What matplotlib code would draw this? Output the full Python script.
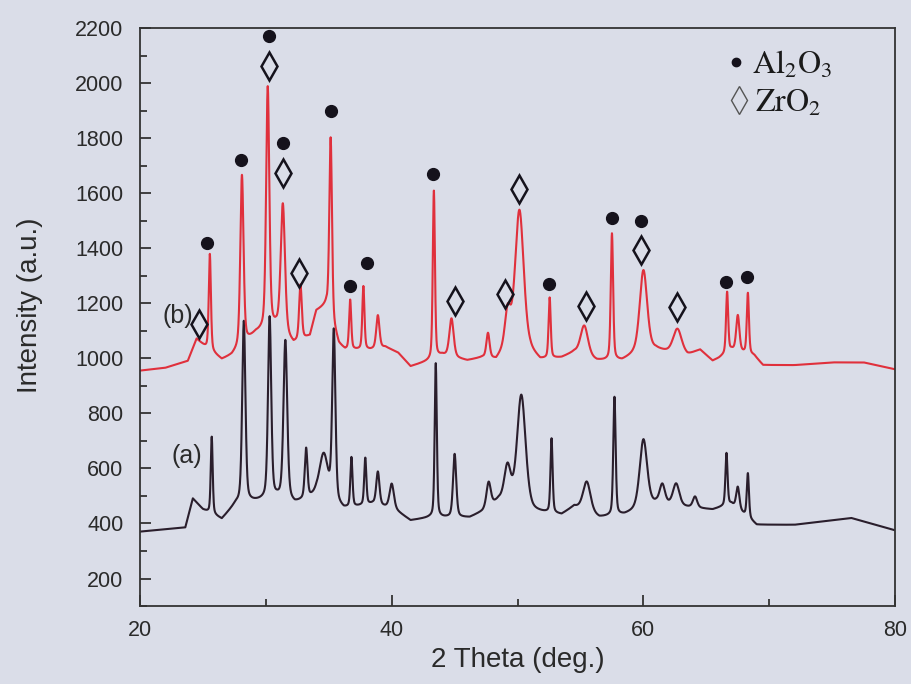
import numpy as np
import matplotlib
matplotlib.use("Agg")
import matplotlib.pyplot as plt

# ---------------- data ----------------
# sample (b) (red): background knots and diffraction peaks
b_base_x = [20, 22, 23.8, 24.5, 25.2, 26.5, 27.3, 29.2, 30.8, 32.2, 33.5, 34.0, 34.8, 35.8, 36.3,
            38.3, 39.5, 40.5, 41.5, 43.0, 44.0, 46.0, 47.2, 48.3, 49.4, 51.0, 51.8, 53.5, 54.5,
            56.3, 58.3, 59.2, 61.0, 62.0, 63.5, 64.5, 65.5, 66.0, 67.0, 68.8, 69.5, 72, 75, 77.5, 80]
b_base_y = [955, 965, 990, 1070, 1040, 995, 1010, 1090, 1110, 1050, 1080, 1170, 1190, 1050, 1030,
            1030, 1040, 1020, 970, 990, 1010, 990, 1000, 990, 1050, 1020, 990, 1000, 1020,
            990, 990, 1010, 1030, 1020, 1010, 1030, 990, 1000, 1030, 1010, 975, 975, 985, 985, 960]
b_peak_pos = [25.55, 28.1, 30.15, 31.35, 32.75, 35.15, 36.7, 37.75, 38.9, 43.35, 44.75, 47.65,
              49.2, 50.15, 52.55, 55.3, 57.5, 60.0, 62.7, 66.65, 67.5, 68.3]
b_peak_amp = [350, 620, 880, 470, 200, 660, 180, 230, 120, 610, 140, 90,
              120, 500, 220, 110, 460, 300, 90, 220, 130, 220]
b_peak_fwhm = [0.2, 0.3, 0.3, 0.4, 0.25, 0.25, 0.2, 0.2, 0.3, 0.2, 0.4, 0.3,
               0.5, 0.8, 0.2, 0.7, 0.22, 0.7, 0.8, 0.2, 0.3, 0.2]

# sample (a) (black)
a_base_x = [20, 23.6, 24.2, 25.0, 26.5, 27.6, 29.3, 30.9, 32.3, 34.0, 36.2, 38.5, 40.2, 41.5,
            43.0, 46.2, 47.2, 48.5, 51.2, 53.5, 54.5, 56.5, 58.5, 61.0, 63.0, 65.5, 67.0, 69.0,
            72.0, 76.5, 80]
a_base_y = [370, 385, 490, 450, 415, 470, 480, 490, 470, 500, 450, 470, 450, 410,
            420, 420, 440, 480, 440, 430, 460, 420, 430, 470, 460, 450, 470, 395,
            395, 420, 375]
a_peak_pos = [25.7, 28.25, 30.3, 31.55, 33.2, 34.6, 35.4, 36.8, 37.9, 38.9, 40.0, 43.5, 45.0,
              47.7, 49.2, 50.3, 52.7, 55.5, 57.7, 60.0, 61.5, 62.6, 64.1, 66.6, 67.5, 68.3]
a_peak_amp = [280, 660, 660, 580, 180, 160, 620, 180, 170, 120, 90, 560, 230,
              90, 130, 410, 270, 110, 430, 250, 70, 80, 40, 190, 80, 160]
a_peak_fwhm = [0.18, 0.3, 0.3, 0.35, 0.25, 0.8, 0.3, 0.2, 0.2, 0.3, 0.4, 0.2, 0.3,
               0.4, 0.6, 0.8, 0.2, 0.7, 0.22, 0.7, 0.5, 0.6, 0.4, 0.2, 0.3, 0.2]

# phase markers
al_x = [25.3, 28.0, 30.25, 31.37, 35.2, 36.7, 38.0, 43.3, 52.5, 57.5, 59.8, 66.6, 68.2]
al_y = [1420, 1719, 2172, 1781, 1898, 1264, 1347, 1668, 1271, 1511, 1500, 1278, 1296]
zr_x = [24.7, 30.25, 31.37, 32.6, 45.0, 49.0, 50.1, 55.4, 59.8, 62.7]
zr_y = [1125, 2062, 1675, 1311, 1209, 1235, 1617, 1191, 1395, 1187]

x_ticks = [20, 40, 60, 80]
y_ticks = [200, 400, 600, 800, 1000, 1200, 1400, 1600, 1800, 2000, 2200]


def pattern(bx, by, pos, amp, fwhm, x):
    y = np.interp(x, bx, by)
    for p, a, w in zip(pos, amp, fwhm):
        g = np.exp(-4 * np.log(2) * ((x - p) / w) ** 2)
        l = 1.0 / (1 + 4 * ((x - p) / w) ** 2)
        y = y + a * (0.6 * g + 0.4 * l)
    return y


tt = np.linspace(20, 80, 6001)
yb = pattern(b_base_x, b_base_y, b_peak_pos, b_peak_amp, b_peak_fwhm, tt)
ya = pattern(a_base_x, a_base_y, a_peak_pos, a_peak_amp, a_peak_fwhm, tt)

plt.rcParams['mathtext.fontset'] = 'stix'
bg = '#dadde8'
fig = plt.figure(figsize=(9.12, 6.84), dpi=100, facecolor=bg)
ax = fig.add_axes([0.1535, 0.114, 0.828, 0.845], facecolor=bg)

ax.plot(tt, ya, color='#2a1e2c', lw=1.5)
ax.plot(tt, yb, color='#e0303c', lw=1.5)

ax.plot(al_x, al_y, 'o', ms=8.5, color='#15121c', ls='none')
ax.plot(zr_x, zr_y, 'd', ms=14, mfc='none', mec='#15121c', mew=1.8, ls='none')

ax.set_xlim(20, 80)
ax.set_ylim(100, 2200)
ax.set_xticks(x_ticks)
ax.set_xticks([30, 50, 70], minor=True)
ax.set_yticks(y_ticks)
ax.set_yticks(np.arange(100, 2200, 200), minor=True)
ax.tick_params(which='both', direction='in', top=False, right=False, colors='#333333',
               labelcolor='#2a2a2a', labelsize=15.5, width=1.3)
ax.tick_params(which='major', length=8)
ax.tick_params(which='minor', length=5)
ax.tick_params(axis='x', pad=10)
ax.tick_params(axis='y', pad=12)
for s in ax.spines.values():
    s.set_color('#333333')
    s.set_linewidth(1.3)
for lab in ax.get_xticklabels() + ax.get_yticklabels():
    lab.set_family('Liberation Sans')

ax.set_xlabel('2 Theta (deg.)', fontsize=20, family='Liberation Sans', color='#2a2a2a', va='center')
ax.xaxis.set_label_coords(0.5, -0.093)
ax.set_ylabel('Intensity (a.u.)', fontsize=20, family='Liberation Sans', color='#2a2a2a', va='center')
ax.yaxis.set_label_coords(-0.1457, 0.521)

ax.text(23.0, 1155, '(b)', fontsize=18, family='Liberation Sans', color='#2a2a2a', ha='center', va='center')
ax.text(23.7, 644, '(a)', fontsize=18, family='Liberation Sans', color='#2a2a2a', ha='center', va='center')

# legend
ax.plot([0.789], [0.941], 'o', ms=6, color='#15121c', transform=ax.transAxes, clip_on=False)
ax.plot([0.793], [0.875], 'd', ms=14, mfc='none', mec='#555555', mew=1.0, transform=ax.transAxes)
ax.text(0.810, 0.937, r'$\mathrm{Al_2O_3}$', fontsize=23, color='#1a1a1a', transform=ax.transAxes,
        ha='left', va='center')
ax.text(0.814, 0.871, r'$\mathrm{ZrO_2}$', fontsize=23, color='#1a1a1a', transform=ax.transAxes,
        ha='left', va='center')

fig.savefig('out.png', dpi=100, facecolor=bg)
